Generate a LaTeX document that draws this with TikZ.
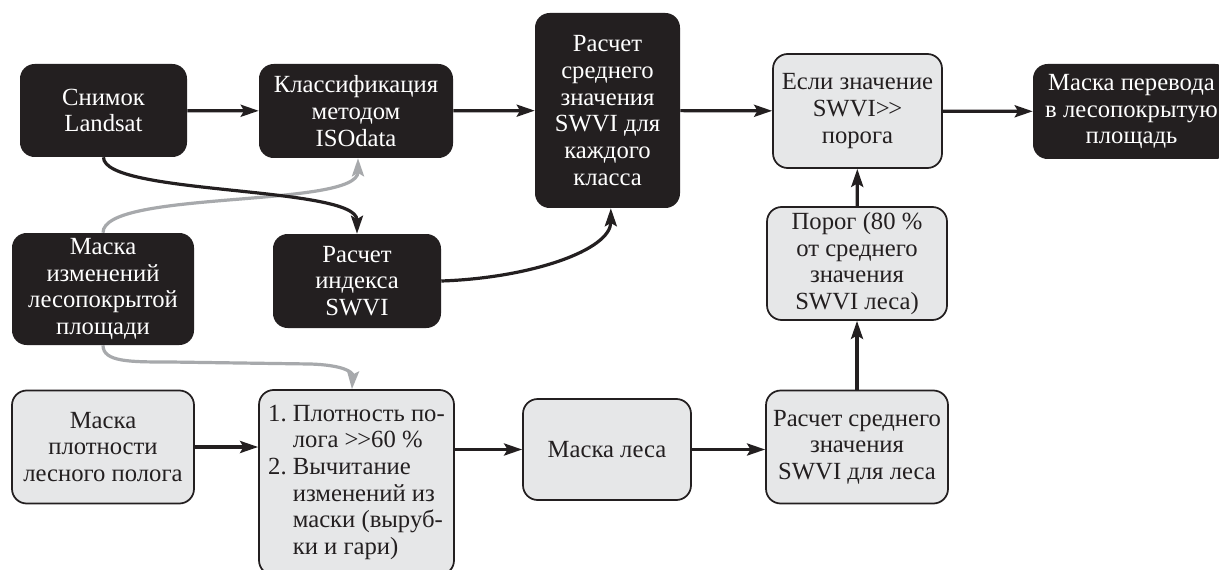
\documentclass[tikz,border=0pt]{standalone}
\usepackage{fontspec}
\setmainfont{Liberation Serif}
\usetikzlibrary{arrows.meta}
\definecolor{ink}{HTML}{231F20}
\definecolor{boxgray}{HTML}{E6E7E8}
\definecolor{arrgray}{HTML}{A7A9AC}
\tikzset{
  base/.style={rounded corners=11pt, inner sep=0pt, align=center, font=\fontsize{18.5}{20}\selectfont},
  sz/.style 2 args={minimum width=#1*0.75pt, minimum height=#2*0.75pt},
  blk/.style={base, fill=ink, text=white},
  lgt/.style={base, fill=boxgray, draw=ink, line width=1.3pt, text=ink},
  arr/.style={draw=ink, line width=2.4pt, -{Stealth[length=13.5pt,width=9pt,inset=2.5pt]}},
  garr/.style={arr, draw=arrgray},
}
\newcommand{\gtgt}{>\kern-1pt>}
\begin{document}
\begin{tikzpicture}[x=0.75pt,y=-0.75pt]
\fill[white] (0,0) rectangle (1219,570);
\useasboundingbox (0,0) rectangle (1219,570);

\node[blk, sz={167}{93}] (n1) at (103.5,110.5) {Снимок\\Landsat};
\node[blk, sz={194}{94}] (n2) at (356,111) {Классификация\\методом\\ISOdata};
\node[blk, sz={145}{195}] (n3) at (607.5,110.5) {Расчет\\среднего\\значения\\SWVI для\\каждого\\класса};
\node[lgt, sz={169}{114}] (n4) at (857.5,111) {Если значение\\SWVI\gtgt\\порога};
\node[blk, sz={197}{95}] (n5) at (1131.5,111.5) {Маска перевода\\в лесопокрытую\\площадь};
\node[lgt, sz={180}{113}] (n6) at (857,263.5) {Порог (80~\%\\от среднего\\значения\\SWVI леса)};
\node[blk, sz={182}{112}] (n7) at (103,289) {Маска\\изменений\\лесопокрытой\\площади};
\node[blk, sz={168}{94}] (n8) at (357,281) {Расчет\\индекса\\SWVI};
\node[lgt, sz={182}{113}] (n9) at (103,447) {Маска\\плотности\\лесного полога};
\node[lgt, sz={195}{185}] (n10) at (356.5,482.5) {\begin{tabular}{@{}r@{\ }l@{}}1.&Плотность по-\\&лога \gtgt60~\%\\2.&Вычитание\\&изменений из\\&маски (выруб-\\&ки и гари)\end{tabular}};
\node[lgt, sz={168}{101}] (n11) at (607,449.5) {Маска леса};
\node[lgt, sz={182}{113}] (n12) at (857,447) {Расчет среднего\\значения\\SWVI для леса};

\draw[arr] (n1) -- (n2);
\draw[arr] (n2) -- (n3);
\draw[arr] (n3) -- (n4);
\draw[arr] (n4) -- (n5);
\draw[arr] (n6) -- (n4);
\draw[arr] (n12) -- (n6);
\draw[arr] (n9.east) -- (n10.west |- n9.east);
\draw[arr] (n10.east |- n11.west) -- (n11.west);
\draw[arr] (n11.east) -- (n12.west |- n11.east);

\draw[garr] (n7.north) .. controls +(0,-43) and +(0,50) .. ([xshift=1.5pt]n2.south);
\draw[arr] (n1.south) .. controls +(0,38) and +(0,-48) .. (n8.north);
\draw[arr] (n8.east) .. controls +(89,-3) and +(0,42) .. ([xshift=2.5pt]n3.south);
\draw[garr] (n7.south) .. controls (103,362) and (130,362) .. (170,362) -- (310,364) .. controls (343,365) and (353,372) .. ([xshift=-3.4pt]n10.north);
\end{tikzpicture}
\end{document}
